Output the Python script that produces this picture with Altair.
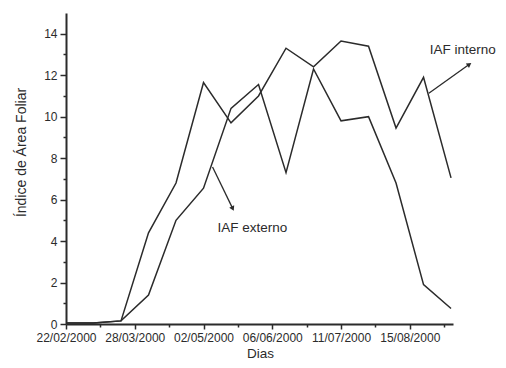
import altair as alt
import pandas as pd

# ---- data ----
days = [0, 14, 28, 42, 56, 70, 84, 98, 112, 126, 140, 154, 168, 182, 196]
iaf_interno = [0.05, 0.05, 0.15, 4.4, 6.8, 11.65, 9.7, 11.0, 13.3, 12.4, 13.65, 13.4, 9.45, 11.9, 7.05]
iaf_externo = [0.05, 0.05, 0.15, 1.4, 5.0, 6.55, 10.4, 11.55, 7.3, 12.3, 9.8, 10.0, 6.8, 1.9, 0.75]

tick_days = [0, 35, 70, 105, 140, 175]
tick_labels = ["22/02/2000", "28/03/2000", "02/05/2000", "06/06/2000", "11/07/2000", "15/08/2000"]
minor_days = [17.5, 52.5, 87.5, 122.5, 157.5, 192.5]

label_names = ["IAF interno", "IAF externo"]
label_x = [185.2, 77.1]
label_y = [13.22, 4.63]
arrow_x = [184.7, 74.6]
arrow_y = [11.13, 7.57]
arrow_x2 = [205.0, 84.7]
arrow_y2 = [12.5, 5.6]
arrow_angle = [55, 154]

# ---- tables ----
rows = []
for d, a, b in zip(days, iaf_interno, iaf_externo):
    rows.append({"day": d, "value": a, "series": "IAF interno"})
    rows.append({"day": d, "value": b, "series": "IAF externo"})
lines_df = pd.DataFrame(rows)
labels_df = pd.DataFrame({"name": label_names, "x": label_x, "y": label_y})
arrows_df = pd.DataFrame({"x": arrow_x, "y": arrow_y, "x2": arrow_x2, "y2": arrow_y2,
                          "angle": arrow_angle})

ink = "#2b2b2b"
font = "Liberation Sans"

xscale = alt.Scale(domain=[0, 197], nice=False, zero=False)
yscale = alt.Scale(domain=[0, 15], nice=False)

label_expr = " : ".join(
    f"datum.value == {d} ? '{t}'" for d, t in zip(tick_days, tick_labels)
) + " : ''"

x_values = sorted(tick_days + minor_days)
y_values = list(range(0, 15))

x_axis = alt.Axis(
    values=x_values,
    labelExpr=label_expr,
    tickSize={"condition": {"test": "datum.value % 35 != 0", "value": 3}, "value": 5},
    tickWidth=1.5, tickColor=ink, domainColor=ink, domainWidth=2,
    labelColor=ink, labelFont=font, labelFontSize=12, labelPadding=3,
    labelFlush=False, labelOverlap=False, grid=False,
    title="Dias", titleFont=font, titleFontSize=13.5, titleFontWeight="normal",
    titleColor=ink, titleBaseline="middle", titleY=29, titleX=194,
)
y_axis = alt.Axis(
    values=y_values,
    labelExpr="datum.value % 2 == 0 ? datum.value : ''",
    tickSize={"condition": {"test": "datum.value % 2 != 0", "value": 3}, "value": 6},
    tickWidth=1.5, tickColor=ink, domainColor=ink, domainWidth=2,
    labelColor=ink, labelFont=font, labelFontSize=12, labelPadding=3,
    labelOverlap=False, grid=False,
    title="Índice de Área Foliar", titleFont=font, titleFontSize=14,
    titleFontWeight="normal", titleColor=ink, titleAngle=-90,
    titleAlign="center", titleBaseline="middle", titleX=-45, titleY=139,
)

lines = alt.Chart(lines_df).mark_line(color=ink, strokeWidth=1.5).encode(
    x=alt.X("day:Q", scale=xscale, axis=x_axis),
    y=alt.Y("value:Q", scale=yscale, axis=y_axis),
    detail="series:N",
)

arrows = alt.Chart(arrows_df).mark_rule(color=ink, strokeWidth=1.3).encode(
    x=alt.X("x:Q", scale=xscale, axis=x_axis),
    y=alt.Y("y:Q", scale=yscale, axis=y_axis),
    x2="x2:Q",
    y2="y2:Q",
)

heads = alt.Chart(arrows_df).mark_point(
    shape="triangle", filled=True, color=ink, size=30, opacity=1
).encode(
    x=alt.X("x2:Q", scale=xscale, axis=x_axis),
    y=alt.Y("y2:Q", scale=yscale, axis=y_axis),
    angle=alt.Angle("angle:Q", scale=None),
)

texts = alt.Chart(labels_df).mark_text(
    align="left", baseline="middle", font=font, fontSize=13.5, color=ink
).encode(
    x=alt.X("x:Q", scale=xscale, axis=x_axis),
    y=alt.Y("y:Q", scale=yscale, axis=y_axis),
    text="name:N",
)

chart = alt.layer(lines, arrows, heads, texts).properties(
    width=387, height=311,
    autosize=alt.AutoSizeParams(type="none"),
    padding={"left": 58, "top": 5, "right": 45, "bottom": 36},
).configure(background="white").configure_view(stroke=None)

chart.save("out.html", embed_options={"renderer": "svg", "actions": False})
